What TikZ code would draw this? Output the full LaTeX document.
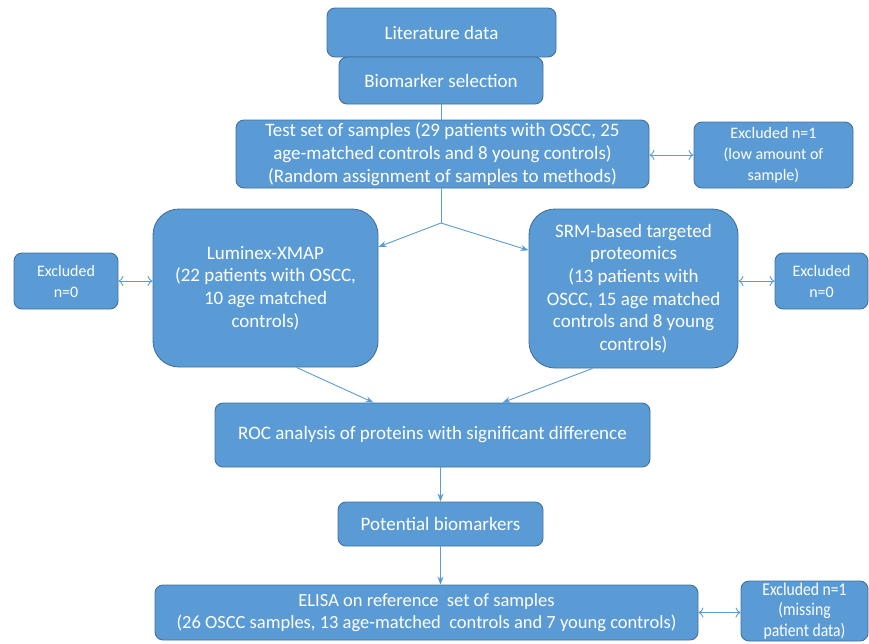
\documentclass[tikz,border=0pt]{standalone}
\usepackage{fontspec}
\setmainfont{Carlito}
\usetikzlibrary{arrows.meta,calc}
\definecolor{boxfill}{HTML}{5B9BD5}
\definecolor{boxline}{HTML}{41719C}
\definecolor{arr}{HTML}{5B9BD5}
\begin{document}
\begin{tikzpicture}[x=1pt,y=-1pt,
  box/.style={draw=boxline, line width=0.9pt, fill=boxfill, rounded corners=8pt,
    text=white, align=center, inner sep=0pt, font=\fontsize{19}{22.7}\selectfont},
  bigbox/.style={box, rounded corners=26pt},
  exbox/.style={box, font=\fontsize{16}{21}\selectfont},
  conn/.style={draw=arr, line width=0.9pt},
  arrow/.style={conn, -{Stealth[length=8pt,width=6pt]}},
  dbl/.style={conn, {To[length=5pt,width=10pt]}-{To[length=5pt,width=10pt]}}]
\useasboundingbox (0,0) rectangle (869,643);

\node[box, minimum width=229pt, minimum height=49pt] (lit) at (441.5,32.5) {Literature data};
\node[box, minimum width=204pt, minimum height=47pt] (bio) at (441,80.5) {Biomarker selection};
\node[box, minimum width=413pt, minimum height=68pt] (test) at (442.5,154)
  {Test set of samples (29 patients with OSCC, 25\\age-matched controls and 8 young controls)\\(Random assignment of samples to methods)};
\node[exbox, minimum width=159pt, minimum height=66pt] (exT) at (773.5,155)
  {Excluded n=1\\(low amount of\\sample)};
\node[bigbox, minimum width=225pt, minimum height=158pt] (lum) at (265.5,288)
  {Luminex-XMAP\\(22 patients with OSCC,\\10 age matched\\controls)};
\node[bigbox, minimum width=209pt, minimum height=159pt] (srm) at (633.5,288.5)
  {SRM-based targeted\\proteomics\\(13 patients with\\OSCC, 15 age matched\\controls and 8 young\\controls)};
\node[exbox, minimum width=104pt, minimum height=56pt] (exL) at (66,281) {Excluded\\n=0};
\node[exbox, minimum width=93pt, minimum height=56pt] (exR) at (821.5,281) {Excluded\\n=0};
\node[box, minimum width=435pt, minimum height=64pt] (roc) at (432.5,435)
  {ROC analysis of proteins with significant difference};
\node[box, minimum width=205pt, minimum height=44pt] (pot) at (440.5,524) {Potential biomarkers};
\node[box, minimum width=543pt, minimum height=55pt, font=\fontsize{18.5}{22}\selectfont] (elisa) at (426.5,612.5)
  {ELISA on reference\ \ set of samples\\(26 OSCC samples, 13 age-matched\ \ controls and 7 young controls)};
\node[exbox, minimum width=127pt, minimum height=60pt, font=\fontsize{18}{20.5}\selectfont] (exB) at (804.5,611)
  {\addfontfeature{FakeStretch=0.87}Excluded n=1\\\addfontfeature{FakeStretch=0.87}(missing\\\addfontfeature{FakeStretch=0.87}patient data)};

\coordinate (j) at (441,223);
\draw[conn] (bio.south) -- (bio.south |- test.north);
\draw[conn] (test.south -| j) -- (j);
\draw[arrow] (j) -- (lum.20);
\draw[arrow] (j) -- (srm.160);
\draw[arrow] ($(lum.south)+(31,0)$) -- ($(roc.north)+(-59,0)$);
\draw[arrow] ($(srm.south)+(-41,0)$) -- ($(roc.north)+(70,0)$);
\draw[arrow] (roc.south -| pot.north) -- (pot.north);
\draw[arrow] (pot.south) -- (pot.south |- elisa.north);
\draw[dbl] (test.east |- exT.west) -- (exT.west);
\draw[dbl] (exL.east) -- (exL.east -| lum.west);
\draw[dbl] (exR.west -| srm.east) -- (exR.west);
\draw[dbl] (elisa.east) -- (elisa.east -| exB.west);
\end{tikzpicture}
\end{document}
